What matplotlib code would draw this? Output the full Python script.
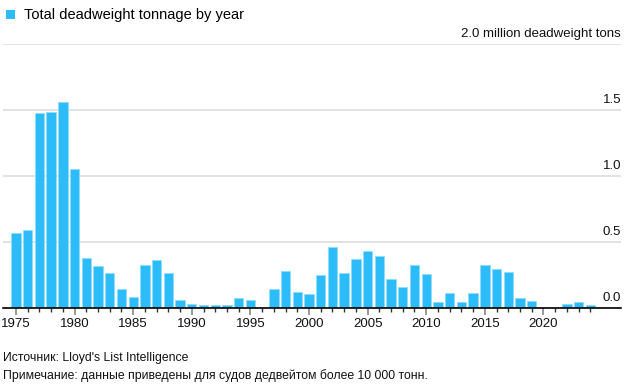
import matplotlib.pyplot as plt
import numpy as np

plt.rcParams['font.family'] = ['Liberation Sans', 'DejaVu Sans']

years = list(range(1975, 2025))
tonnage = [0.568, 0.588, 1.474, 1.487, 1.563, 1.053, 0.381, 0.320, 0.265, 0.144,
           0.080, 0.328, 0.366, 0.262, 0.061, 0.027, 0.025, 0.025, 0.025, 0.078,
           0.058, 0.0, 0.144, 0.283, 0.119, 0.106, 0.250, 0.462, 0.262, 0.369,
           0.434, 0.391, 0.217, 0.159, 0.326, 0.258, 0.045, 0.113, 0.045, 0.113,
           0.328, 0.295, 0.270, 0.076, 0.053, 0.0, 0.0, 0.030, 0.045, 0.023]
major_years = list(range(1975, 2021, 5))
y_ticks = [0.0, 0.5, 1.0, 1.5]

blue = '#2BBCF9'

fig = plt.figure(figsize=(6.38, 3.88), dpi=100)
ax = fig.add_axes([3 / 638, 1 - 308 / 388, 618 / 638, 264 / 388])

ax.bar(years, tonnage, width=0.8, color=blue, edgecolor='#8fdcfc', linewidth=0.6, zorder=3)

ax.set_xlim(1973.89, 2026.62)
ax.set_ylim(0, 2.0)

for v in y_ticks + [2.0]:
    ax.axhline(v, color='#dddddd', linewidth=1.2, zorder=1)
for v in y_ticks:
    ax.text(2026.62, v + 0.03, f'{v:.1f}', ha='right', va='bottom', fontsize=9.5, color='#111111')
ax.text(2026.62, 2.03, '2.0 million deadweight tons', ha='right', va='bottom',
        fontsize=9.5, color='#111111')

for s in ['top', 'right', 'left']:
    ax.spines[s].set_visible(False)
ax.spines['bottom'].set_color('#000000')
ax.spines['bottom'].set_linewidth(1.2)
ax.spines['bottom'].set_zorder(4)

ax.set_yticks([])
ax.set_xticks(major_years)
ax.set_xticklabels([str(y) for y in major_years], fontsize=9.5, color='#111111')
ax.set_xticks(years, minor=True)
ax.tick_params(axis='x', which='major', length=5, width=1.2, color='#888888', pad=2)
ax.tick_params(axis='x', which='minor', length=3, width=1, color='#333333')

# legend
fig.patches.append(plt.Rectangle((6 / 638, 1 - 19 / 388), 9 / 638, 9 / 388,
                                 transform=fig.transFigure, facecolor=blue,
                                 edgecolor='none'))
fig.text(24 / 638, 1 - 14.5 / 388, 'Total deadweight tonnage by year', fontsize=10.5,
         va='center', ha='left', color='#000000')

fig.text(3 / 638, 1 - 358 / 388, 'Источник: Lloyd\'s List Intelligence', fontsize=8.8,
         va='center', ha='left', color='#111111')
fig.text(3 / 638, 1 - 376 / 388,
         'Примечание: данные приведены для судов дедвейтом более 10 000 тонн.',
         fontsize=8.8, va='center', ha='left', color='#111111')

fig.savefig('out.png', dpi=100)
